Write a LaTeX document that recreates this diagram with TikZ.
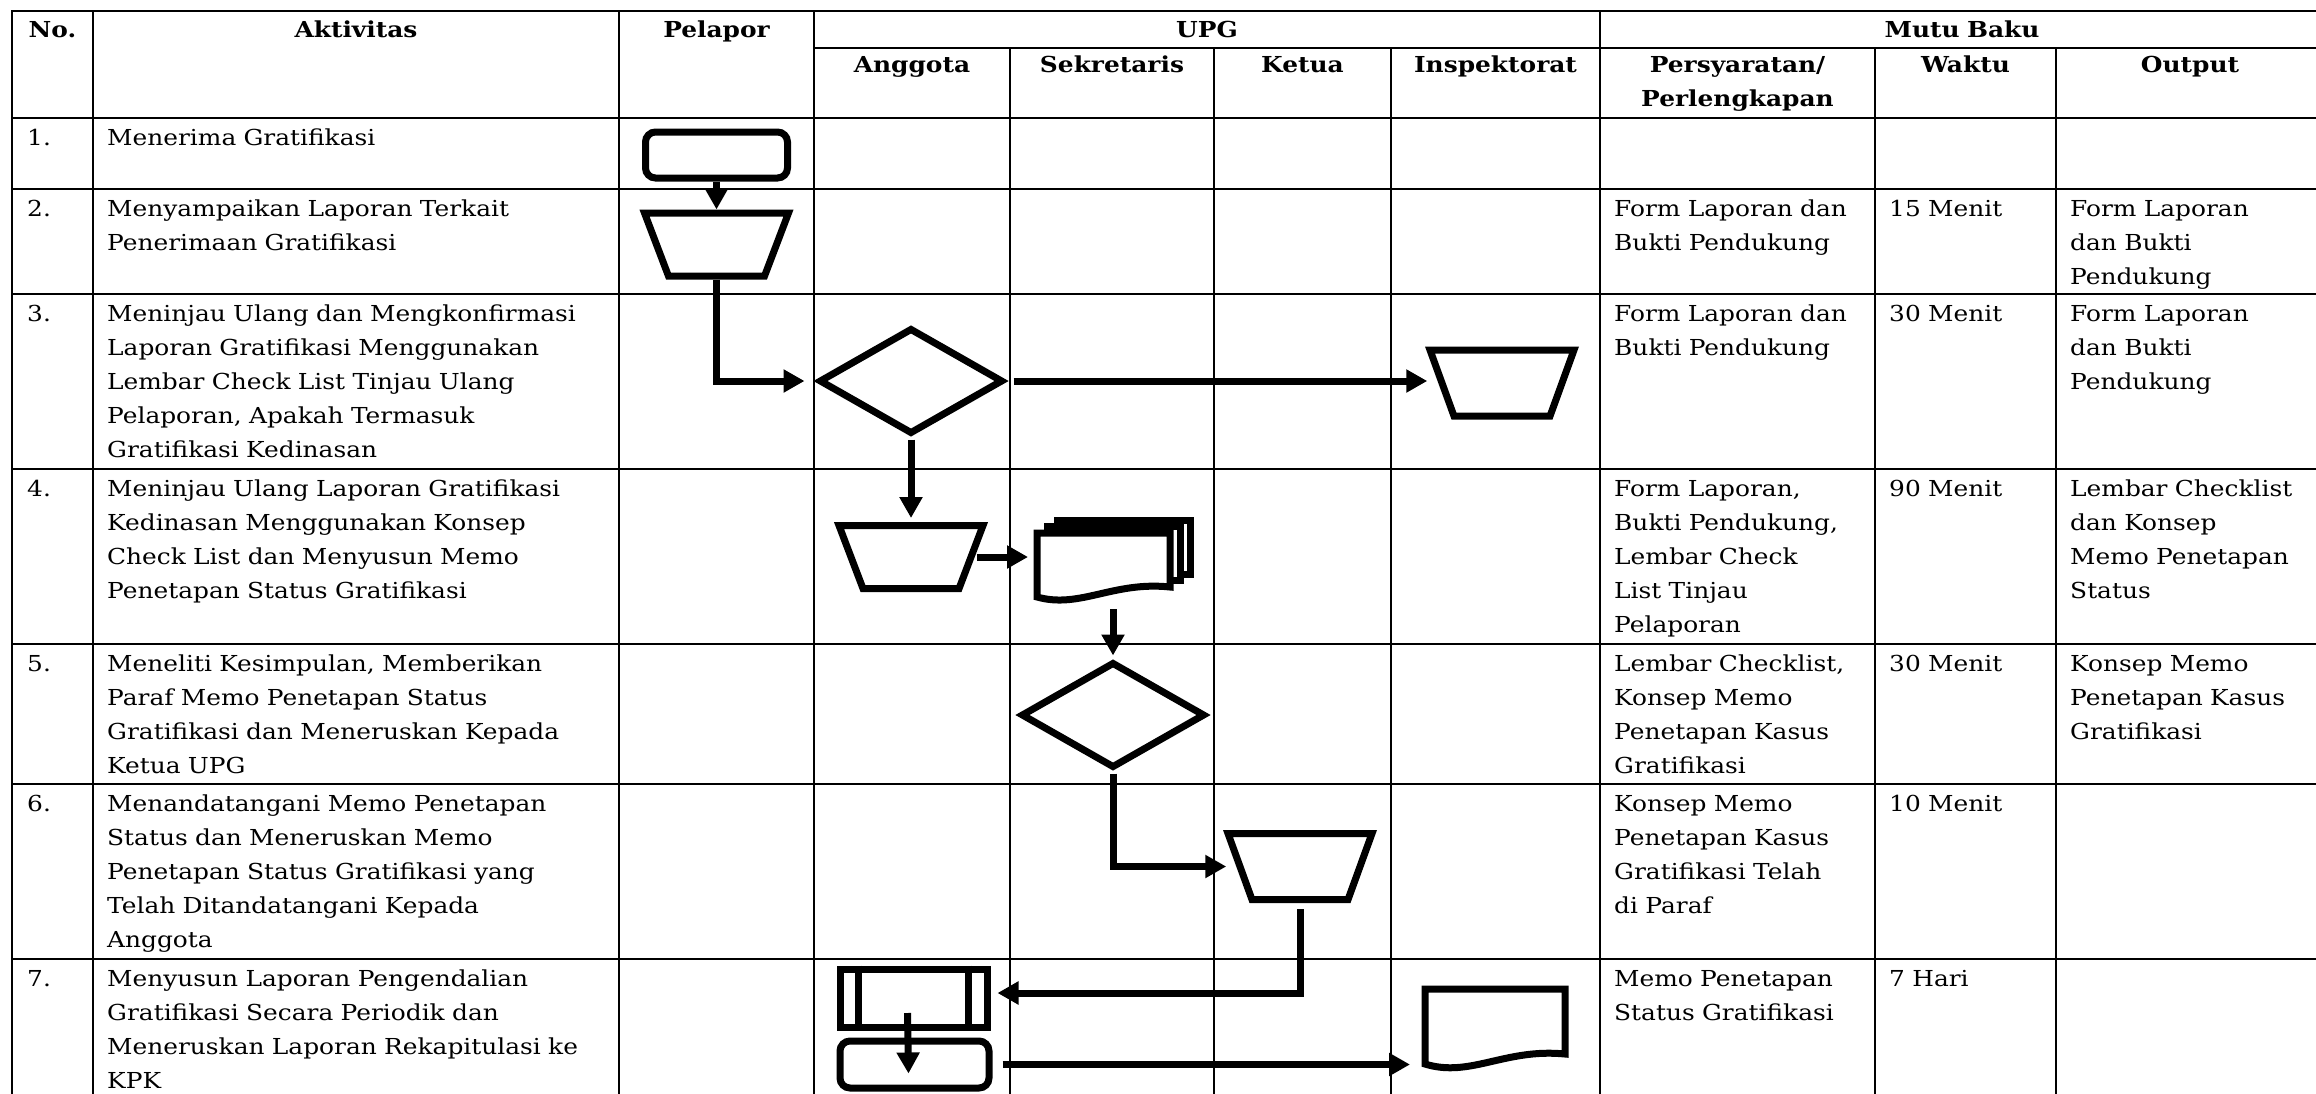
\documentclass[tikz,border=0pt]{standalone}
\usepackage{fontspec}
\setmainfont{DejaVu Serif}[FakeStretch=1.13]
\usetikzlibrary{shapes.geometric,arrows.meta}
\newcommand\isifont{\fontsize{22}{34}\selectfont}

\begin{document}
\begin{tikzpicture}[x=1pt, y=-1pt,
	tab/.style={line width=2.3pt},
	lw/.style={line width=7pt},
	shp/.style={draw, lw, inner sep=0pt, fill=white},
	term/.style={shp, rounded corners=10pt},
	manual/.style={shp, trapezium, inner sep=2pt, trapezium stretches=true, trapezium left angle=104, trapezium right angle=104, minimum width=144pt, minimum height=63pt},
	decision/.style={shp, diamond, inner sep=2pt, minimum width=184pt, minimum height=106pt},
	doc/.style={inner sep=0pt, outer sep=0pt},
	flow/.style={lw, ->},
	>={Triangle[width=22pt,length=21pt]},
	cell/.style={anchor=north west, inner sep=0pt, text width=500pt, align=left, font=\isifont, execute at begin node=\rule{0pt}{22pt}},
	head/.style={anchor=north, inner sep=0pt, text width=260pt, align=center, font=\isifont\bfseries, execute at begin node=\rule{0pt}{22pt}}]
	\useasboundingbox (0,0) rectangle (2316,1093);
	% tabel
	\draw[tab] (12,11) rectangle (2324,1100);
	\foreach \y in {118,189,294,469,644,784,959}
		\draw[tab] (12,\y) -- (2324,\y);
	\draw[tab] (814,48) -- (2324,48);
	\foreach \x in {93,619,814,1600}
		\draw[tab] (\x,11) -- (\x,1100);
	\foreach \x in {1010,1214,1391,1875,2056}
		\draw[tab] (\x,48) -- (\x,1100);
	% kepala tabel
	\node[head] (hno) at (52.5,15) {No.};
	\node[head] (hakt) at (356,15) {Aktivitas};
	\node[head] (hpel) at (716.5,15) {Pelapor};
	\node[head] (hupg) at (1207,15) {UPG};
	\node[head] (hmutu) at (1962,15) {Mutu Baku};
	\node[head] (hang) at (912,50) {Anggota};
	\node[head] (hsek) at (1112,50) {Sekretaris};
	\node[head] (hket) at (1302.5,50) {Ketua};
	\node[head] (hins) at (1495.5,50) {Inspektorat};
	\node[head] (hsyr) at (1737.5,50) {Persyaratan/\\Perlengkapan};
	\node[head] (hwkt) at (1965.5,50) {Waktu};
	\node[head] (hout) at (2190,50) {Output};
	% isi
	\node[cell] (no1) at (27,123) {1.};
	\node[cell] (akt1) at (107,123) {Menerima Gratifikasi};
	\node[cell] (no2) at (27,194) {2.};
	\node[cell] (akt2) at (107,194) {Menyampaikan Laporan Terkait\\Penerimaan Gratifikasi};
	\node[cell] (syr2) at (1614,194) {Form Laporan dan\\Bukti Pendukung};
	\node[cell] (wkt2) at (1889,194) {15 Menit};
	\node[cell] (out2) at (2070,194) {Form Laporan\\dan Bukti\\Pendukung};
	\node[cell] (no3) at (27,299) {3.};
	\node[cell] (akt3) at (107,299) {Meninjau Ulang dan Mengkonfirmasi\\Laporan Gratifikasi Menggunakan\\Lembar Check List Tinjau Ulang\\Pelaporan, Apakah Termasuk\\Gratifikasi Kedinasan};
	\node[cell] (syr3) at (1614,299) {Form Laporan dan\\Bukti Pendukung};
	\node[cell] (wkt3) at (1889,299) {30 Menit};
	\node[cell] (out3) at (2070,299) {Form Laporan\\dan Bukti\\Pendukung};
	\node[cell] (no4) at (27,474) {4.};
	\node[cell] (akt4) at (107,474) {Meninjau Ulang Laporan Gratifikasi\\Kedinasan Menggunakan Konsep\\Check List dan Menyusun Memo\\Penetapan Status Gratifikasi};
	\node[cell] (syr4) at (1614,474) {Form Laporan,\\Bukti Pendukung,\\Lembar Check\\List Tinjau\\Pelaporan};
	\node[cell] (wkt4) at (1889,474) {90 Menit};
	\node[cell] (out4) at (2070,474) {Lembar Checklist\\dan Konsep\\Memo Penetapan\\Status};
	\node[cell] (no5) at (27,649) {5.};
	\node[cell] (akt5) at (107,649) {Meneliti Kesimpulan, Memberikan\\Paraf Memo Penetapan Status\\Gratifikasi dan Meneruskan Kepada\\Ketua UPG};
	\node[cell] (syr5) at (1614,649) {Lembar Checklist,\\Konsep Memo\\Penetapan Kasus\\Gratifikasi};
	\node[cell] (wkt5) at (1889,649) {30 Menit};
	\node[cell] (out5) at (2070,649) {Konsep Memo\\Penetapan Kasus\\Gratifikasi};
	\node[cell] (no6) at (27,789) {6.};
	\node[cell] (akt6) at (107,789) {Menandatangani Memo Penetapan\\Status dan Meneruskan Memo\\Penetapan Status Gratifikasi yang\\Telah Ditandatangani Kepada\\Anggota};
	\node[cell] (syr6) at (1614,789) {Konsep Memo\\Penetapan Kasus\\Gratifikasi Telah\\di Paraf};
	\node[cell] (wkt6) at (1889,789) {10 Menit};
	\node[cell] (no7) at (27,964) {7.};
	\node[cell] (akt7) at (107,964) {Menyusun Laporan Pengendalian\\Gratifikasi Secara Periodik dan\\Meneruskan Laporan Rekapitulasi ke\\KPK};
	\node[cell] (syr7) at (1614,964) {Memo Penetapan\\Status Gratifikasi};
	\node[cell] (wkt7) at (1889,964) {7 Hari};
	% simbol alur
	\node[term, minimum width=142pt, minimum height=46pt] (t1) at (716.5,155) {};
	\node[manual] (lp) at (716.5,244.5) {};
	\node[decision] (d1) at (911,381) {};
	\node[manual, minimum height=66pt] (ins1) at (1502,383) {};
	\node[manual] (an4) at (911,557) {};
	\node[doc, minimum width=133pt, minimum height=54pt] (md) at (1103.5,560) {};
	\draw[lw, fill=white] ([shift={(20pt,13pt)}]md.north west) rectangle ([shift={(20pt,13pt)}]md.south east);
	\draw[lw, fill=white] ([shift={(10pt,6.5pt)}]md.north west) rectangle ([shift={(10pt,6.5pt)}]md.south east);
	\draw[lw, fill=white] (md.south east) -- (md.north east) -- (md.north west) -- ([yshift=-10pt]md.south west)
		.. controls ([shift={(43pt,-22pt)}]md.south west) and ([shift={(76pt,6pt)}]md.south west) .. (md.south east) -- cycle;
	\node[decision] (d2) at (1113,715) {};
	\node[manual, minimum height=66pt] (kt6) at (1300,866.5) {};
	\node[shp, minimum width=147pt, minimum height=58pt] (pp) at (913.5,998) {};
	\draw[lw] ([xshift=22pt]pp.north west) -- ([xshift=22pt]pp.south west);
	\draw[lw] ([xshift=-22pt]pp.north east) -- ([xshift=-22pt]pp.south east);
	\node[term, minimum width=149pt, minimum height=47pt] (t7) at (914.5,1064.5) {};
	\node[doc, minimum width=140pt, minimum height=65pt] (rk) at (1495,1021.5) {};
	\draw[lw, fill=white] (rk.south east) -- (rk.north east) -- (rk.north west) -- ([yshift=-10pt]rk.south west)
		.. controls ([shift={(45pt,-24pt)}]rk.south west) and ([shift={(80pt,6pt)}]rk.south west) .. (rk.south east) -- cycle;
	% panah
	\draw[flow] (t1.south) -- (lp.north);
	\draw[flow, shorten >=11pt] (lp.south) |- (d1.west);
	\draw[flow, shorten <=7pt, shorten >=11pt] (d1.east) -- (d1.east -| ins1.west);
	\draw[flow, shorten <=2pt, shorten >=4pt] (d1.south) -- (an4.north);
	\draw[flow, shorten <=2pt, shorten >=9pt] (an4.east) -- (an4.east -| md.west);
	\draw[flow, shorten <=22pt, shorten >=3pt] (d2.north |- md.south) -- (d2.north);
	\draw[flow, shorten <=2pt, shorten >=10pt] (d2.south) |- (kt6.west);
	\draw[flow, shorten <=6pt, shorten >=7pt] (kt6.south) |- ([yshift=5pt]pp.east);
	\draw[flow] ([shift={(-6pt,-15pt)}]pp.center) -- ([shift={(-6pt,-9pt)}]t7.center);
	\draw[flow, shorten <=10pt, shorten >=15pt] (t7.east) -- (t7.east -| rk.west);
\end{tikzpicture}
\end{document}
